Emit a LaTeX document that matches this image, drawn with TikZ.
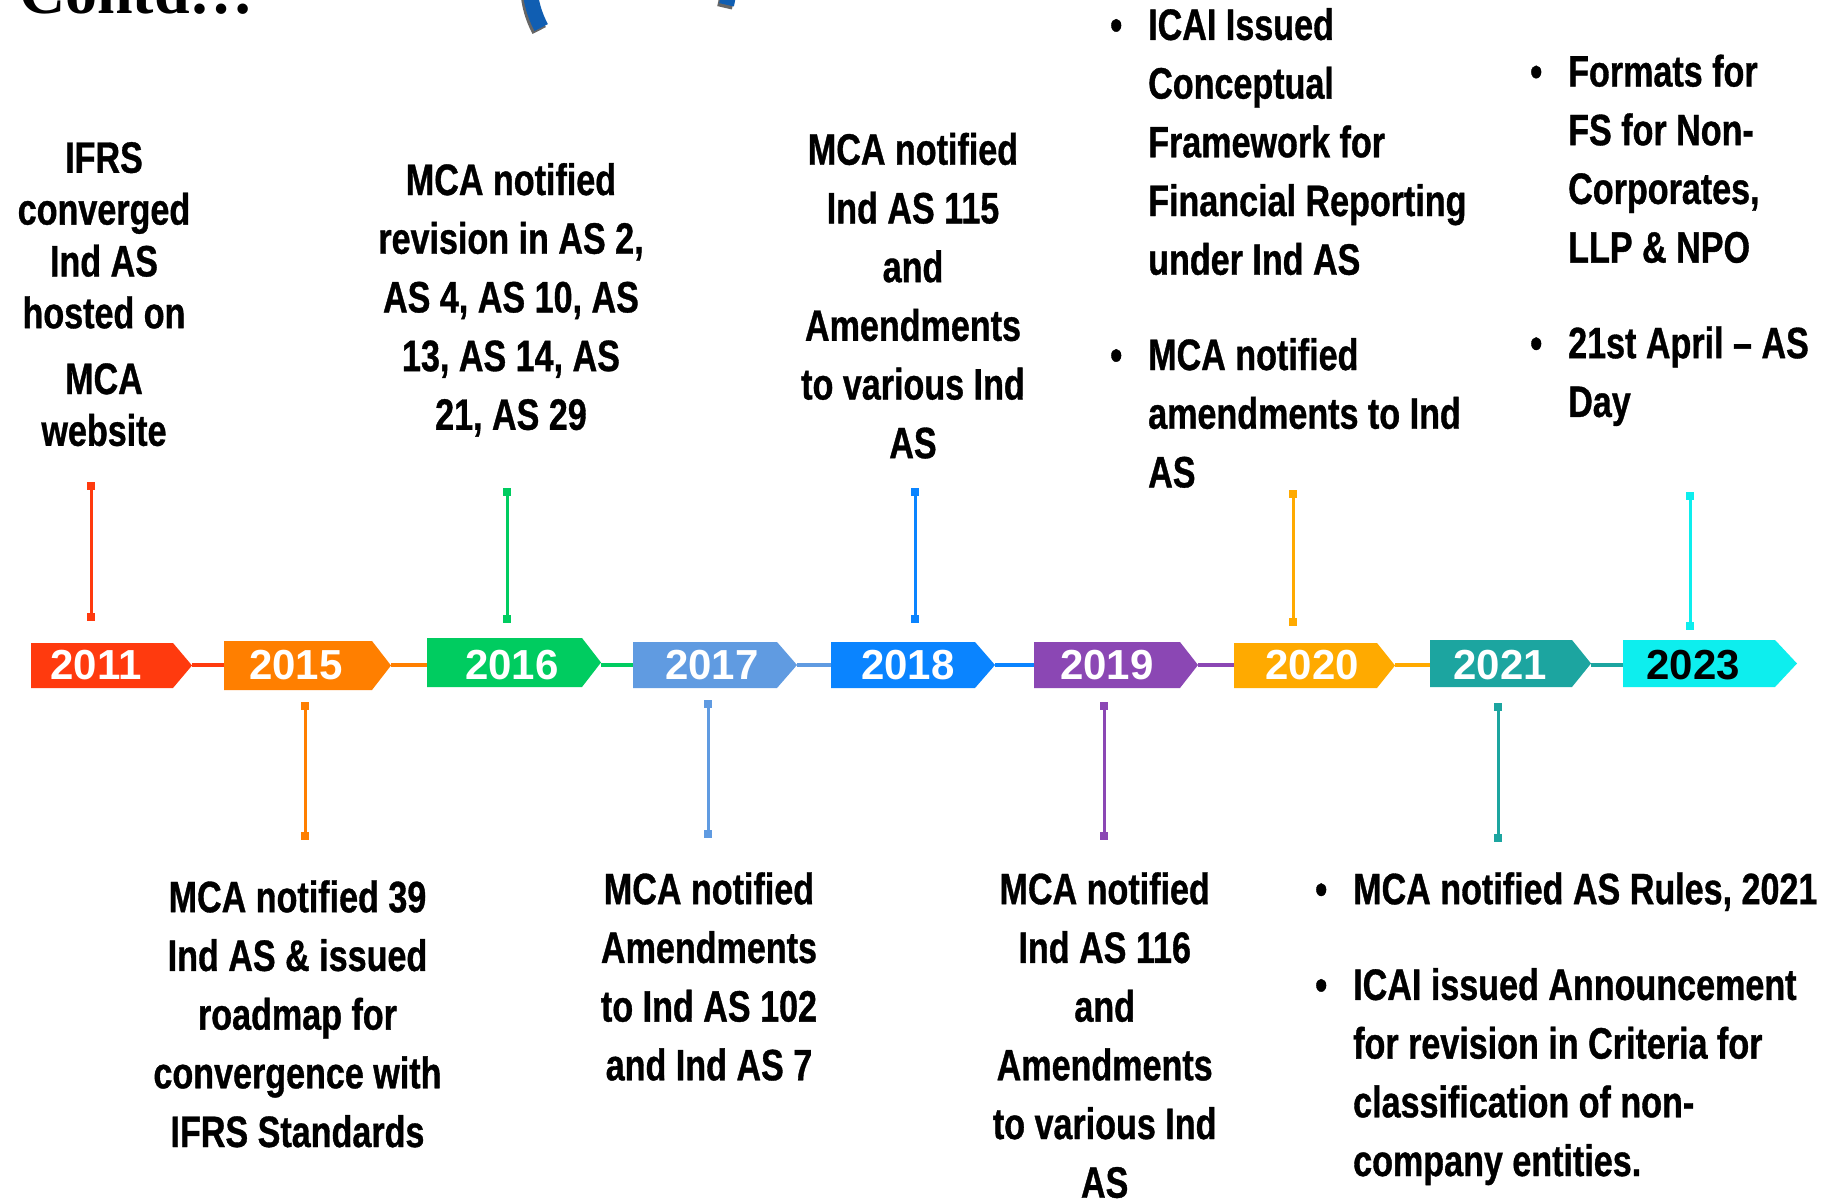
\documentclass[tikz,border=0pt]{standalone}
\usepackage{fontspec}
\setmainfont{Liberation Sans}
\newfontfamily\nfont[FakeStretch=0.775,FakeBold=0.8]{Liberation Sans}
\newfontfamily\serifb{Liberation Serif}
\usetikzlibrary{arrows.meta}
\definecolor{c2011}{RGB}{255,58,14}
\definecolor{c2015}{RGB}{255,127,0}
\definecolor{c2016}{RGB}{0,204,96}
\definecolor{c2017}{RGB}{96,155,225}
\definecolor{c2018}{RGB}{10,132,255}
\definecolor{c2019}{RGB}{139,71,180}
\definecolor{c2020}{RGB}{255,170,0}
\definecolor{c2021}{RGB}{28,165,160}
\definecolor{c2023}{RGB}{13,238,238}
\definecolor{iconblue}{RGB}{16,94,178}
\newcommand\fs{\rule{0pt}{34pt}}
\newcommand\blt{\llap{\textbullet\hspace{26pt}}}
\begin{document}
\begin{tikzpicture}[x=1pt,y=-1pt,
  year/.style={inner sep=0pt,font=\bfseries\fontsize{42}{48}\selectfont},
  txt/.style={inner sep=0pt,anchor=north,align=center,font=\nfont\bfseries\fontsize{44}{58.7}\selectfont},
  txtb/.style={inner sep=0pt,anchor=north,align=center,font=\nfont\bfseries\fontsize{44}{51.8}\selectfont},
  txtl/.style={inner sep=0pt,anchor=north west,align=left,font=\nfont\bfseries\fontsize{44}{58.7}\selectfont},
  hline/.style={line width=4pt},
  vline/.style={line width=3pt,{Square[length=8pt,width=8pt]}-{Square[length=8pt,width=8pt]}},
  arcpart/.style={line width=15pt}]
\useasboundingbox (0,0) rectangle (1829,1199);
\fill[white] (0,0) rectangle (1829,1199);

% cut-off title and icon at the top edge
\node[anchor=base west,inner sep=0pt,font=\serifb\bfseries\fontsize{64}{70}\selectfont] (contd) at (19,14) {Contd…};
\begin{scope}
  \clip (0,0) rectangle (1829,1199);
  \draw[arcpart,black,opacity=0.6] (627.5,-16.4) ++(152:100) arc[start angle=152,end angle=215,radius=100];
  \draw[arcpart,black,opacity=0.6] (627.5,-16.4) ++(14:100) arc[start angle=14,end angle=-40,radius=100];
  \draw[arcpart,iconblue] (629.5,-19.4) ++(152:100) arc[start angle=152,end angle=215,radius=100];
  \draw[arcpart,iconblue] (629.5,-19.4) ++(14:100) arc[start angle=14,end angle=-40,radius=100];
\end{scope}

% year boxes
\foreach \n/\l/\r/\t/\tp/\bt/\tx/\tc in {
  2011/31/173/192/643/688/96/white,
  2015/224/372/391/641/690/296/white,
  2016/427/582/601/638/687/512/white,
  2017/633/777/797/642/688/712/white,
  2018/831/975/995/642/688/908/white,
  2019/1034/1180/1198/642/688/1107/white,
  2020/1234/1377/1395/643/688/1312/white,
  2021/1430/1572/1591/640/687/1500/white,
  2023/1623/1775/1797/640/687/1693/black}
{
  \fill[c\n] (\l,\tp) -- (\r,\tp) -- (\t,{(\tp+\bt)/2}) -- (\r,\bt) -- (\l,\bt) -- cycle;
  \coordinate (w\n) at (\l,665);
  \coordinate (e\n) at (\t,665);
  \node[year,text=\tc] (y\n) at (\tx,665) {\n};
}

% timeline segments
\draw[hline,c2011] (e2011) -- (w2015);
\draw[hline,c2015] (e2015) -- (w2016);
\draw[hline,c2016] (e2016) -- (w2017);
\draw[hline,c2017] (e2017) -- (w2018);
\draw[hline,c2018] (e2018) -- (w2019);
\draw[hline,c2019] (e2019) -- (w2020);
\draw[hline,c2020] (e2020) -- (w2021);
\draw[hline,c2021] (e2021) -- (w2023);

% vertical connectors
\foreach \n/\x/\a/\b in {
  2011/91/482/621, 2015/305/702/840, 2016/507/488/623,
  2017/708/700/838, 2018/915/488/623, 2019/1104/702/840,
  2020/1293/490/626, 2021/1498/703/842, 2023/1690/492/630}
{
  \coordinate (p\n) at (\x,\a);
  \coordinate (q\n) at (\x,\b);
  \draw[vline,c\n] (p\n) -- (q\n);
}

% texts above
\node[txtb] (ifrs) at (104,138.6) {\fs IFRS\\converged\\Ind AS\\hosted on\\[14pt]MCA\\website};
\node[txt] (rev) at (511,160.8) {\fs MCA notified\\revision in AS 2,\\AS 4, AS 10, AS\\13, AS 14, AS\\21, AS 29};
\node[txt] (n115) at (913,130.5) {\fs MCA notified\\Ind AS 115\\and\\Amendments\\to various Ind\\AS};
\node[txtl] (icai) at (1148,5.7) {\fs\blt ICAI Issued\\Conceptual\\Framework for\\Financial Reporting\\under Ind AS\\[36.6pt]\blt MCA notified\\amendments to Ind\\AS};
\node[txtl] (fmt) at (1568,52.3) {\fs\blt Formats for\\FS for Non-\\Corporates,\\LLP \& NPO\\[36.9pt]\blt 21st April – AS\\Day};

% texts below
\node[txt] (b39) at (297.5,878) {\fs MCA notified 39\\Ind AS \& issued\\roadmap for\\convergence with\\IFRS Standards};
\node[txt] (b102) at (709,870) {\fs MCA notified\\Amendments\\to Ind AS 102\\and Ind AS 7};
\node[txt] (b116) at (1104.7,870) {\fs MCA notified\\Ind AS 116\\and\\Amendments\\to various Ind\\AS};
\node[txtl] (rules) at (1353,870) {\fs\blt MCA notified AS Rules, 2021\\[37pt]\blt ICAI issued Announcement\\for revision in Criteria for\\classification of non-\\company entities.};
\end{tikzpicture}
\end{document}
